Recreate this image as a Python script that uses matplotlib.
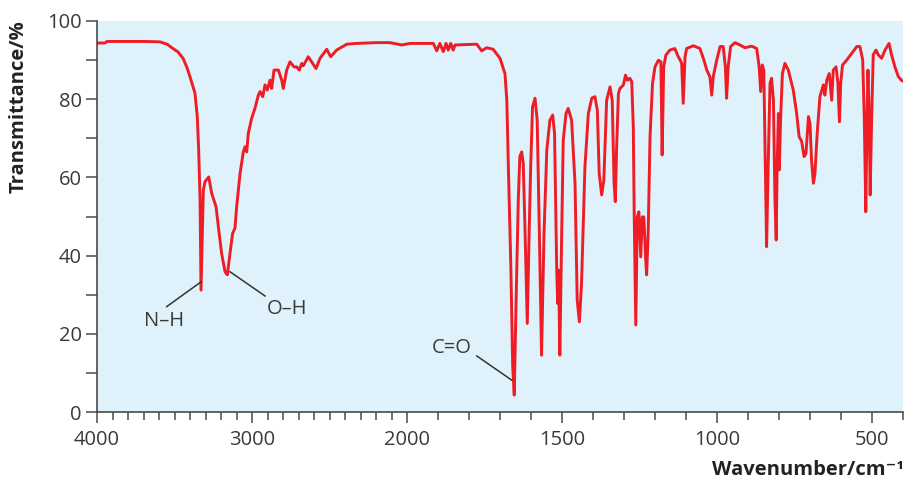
import numpy as np
import matplotlib
matplotlib.use('Agg')
import matplotlib.pyplot as plt
from matplotlib.ticker import FixedLocator

plt.rcParams['font.family'] = ['Open Sans', 'DejaVu Sans']

# 红外光谱数据：波数 (cm-1) 与透过率 (%)
wavenumber = [4000, 3950, 3935, 3700, 3594, 3548, 3510, 3477, 3445, 3421,
              3400, 3368, 3353, 3344, 3335, 3329, 3314, 3303, 3279, 3260,
              3232, 3217, 3196, 3174, 3159, 3142, 3125, 3110, 3099, 3077,
              3056, 3045, 3034, 3024, 3002, 2981, 2959, 2948, 2931, 2916,
              2901, 2884, 2873, 2858, 2830, 2808, 2798, 2776, 2755, 2729,
              2712, 2695, 2679, 2669, 2637, 2615, 2587, 2561, 2518, 2492,
              2454, 2389, 2325, 2196, 2110, 2034, 1990, 1915, 1904, 1894,
              1883, 1874, 1867, 1859, 1851, 1845, 1775, 1759, 1743, 1722,
              1700, 1684, 1678, 1673, 1665, 1659, 1654, 1648, 1641, 1636,
              1630, 1625, 1619, 1612, 1606, 1601, 1595, 1587, 1580, 1573,
              1566, 1558, 1549, 1539, 1530, 1524, 1517, 1514, 1511, 1507,
              1501, 1496, 1487, 1480, 1469, 1458, 1451, 1444, 1437, 1426,
              1415, 1404, 1394, 1386, 1380, 1372, 1365, 1356, 1345, 1338,
              1332, 1328, 1324, 1318, 1313, 1302, 1295, 1289, 1281, 1275,
              1270, 1267, 1262, 1257, 1252, 1246, 1241, 1236, 1230, 1227,
              1222, 1216, 1208, 1200, 1189, 1181, 1177, 1172, 1165, 1152,
              1136, 1125, 1119, 1114, 1109, 1103, 1098, 1076, 1055, 1042,
              1033, 1023, 1017, 1012, 1001, 990, 980, 973, 969, 964,
              956, 942, 926, 910, 888, 872, 864, 859, 854, 849,
              844, 840, 835, 829, 824, 818, 813, 809, 806, 802,
              799, 795, 789, 781, 770, 754, 743, 735, 727, 719,
              713, 705, 700, 695, 689, 684, 677, 668, 657, 652,
              646, 638, 630, 625, 616, 610, 605, 601, 595, 582,
              566, 549, 539, 530, 525, 520, 516, 513, 509, 506,
              501, 496, 487, 480, 469, 458, 445, 437, 426, 415,
              404, 400]
transmittance = [94.3, 94.3, 94.7, 94.7, 94.6, 94.0, 92.9, 92.0, 90.4, 88.2,
                 85.7, 81.5, 75.5, 67.0, 54.2, 31.2, 56.7, 58.9, 60.1, 55.9,
                 52.5, 47.4, 40.6, 35.9, 35.1, 40.6, 45.7, 47.0, 52.5, 61.0,
                 66.5, 67.8, 66.5, 71.2, 75.1, 77.6, 81.0, 81.9, 80.6, 83.6,
                 82.3, 84.8, 82.7, 87.4, 87.4, 84.8, 82.7, 87.4, 89.5, 88.2,
                 88.2, 87.4, 89.1, 88.5, 90.8, 89.5, 87.8, 90.4, 92.7, 90.8,
                 92.5, 94.0, 94.2, 94.4, 94.4, 93.8, 94.2, 94.2, 92.3, 94.2,
                 92.1, 94.2, 92.5, 94.2, 92.5, 93.8, 94.0, 92.3, 93.1, 92.7,
                 90.4, 86.5, 79.7, 62.7, 37.2, 11.6, 4.4, 28.7, 54.2, 65.3,
                 66.5, 63.6, 45.7, 22.7, 45.7, 62.7, 78.0, 80.2, 74.6, 45.7,
                 14.6, 45.7, 67.0, 74.6, 75.9, 71.2, 36.3, 27.8, 36.3, 14.6,
                 45.7, 69.5, 76.3, 77.6, 74.6, 58.5, 28.7, 23.1, 32.9, 62.7,
                 76.3, 80.2, 80.6, 77.2, 61.0, 55.5, 59.3, 79.7, 83.1, 79.7,
                 58.5, 53.8, 67.0, 81.4, 82.7, 83.6, 86.1, 84.8, 85.3, 84.4,
                 72.9, 49.9, 22.3, 49.9, 51.2, 39.7, 49.9, 49.9, 39.0, 35.1,
                 45.7, 70.4, 84.0, 88.2, 89.9, 89.5, 65.7, 88.2, 91.2, 92.5,
                 92.9, 90.8, 90.0, 89.1, 78.9, 90.8, 92.9, 93.6, 92.9, 89.9,
                 87.4, 85.7, 81.0, 85.7, 89.9, 93.4, 93.4, 88.2, 80.2, 88.2,
                 93.4, 94.4, 93.8, 93.1, 93.5, 92.9, 88.2, 81.9, 88.7, 87.4,
                 62.7, 42.3, 62.7, 84.0, 85.3, 79.7, 54.2, 44.0, 62.7, 76.3,
                 61.9, 74.6, 86.5, 89.1, 87.4, 82.3, 76.3, 70.4, 69.2, 65.3,
                 66.1, 75.5, 73.8, 64.4, 58.5, 61.0, 71.0, 80.6, 83.6, 81.0,
                 84.8, 86.5, 79.7, 87.4, 88.2, 84.0, 74.2, 84.0, 88.7, 89.9,
                 91.6, 93.4, 93.4, 90.0, 75.5, 51.2, 75.5, 87.4, 75.5, 55.5,
                 75.5, 91.3, 92.5, 91.3, 90.4, 92.5, 94.2, 91.3, 88.2, 85.7,
                 84.7, 84.6]

xTickValues = [4000, 3000, 2000, 1500, 1000, 500]
yTickValues = [0, 20, 40, 60, 80, 100]


# 2000 cm-1 以上压缩一半（红外谱图常用刻度）
def forward(x):
    x = np.asarray(x, dtype=float)
    return np.where(x > 2000, 1000 + x / 2, x)


def inverse(t):
    t = np.asarray(t, dtype=float)
    return np.where(t > 2000, 2 * t - 2000, t)


textColor = '#3a3a3a'
axisColor = '#4a4a4a'
fontSize = 14.5

fig = plt.figure(figsize=(9.07, 4.84), dpi=100)
ax = fig.add_axes([97 / 907, 71.7 / 484, 806 / 907, 391.6 / 484])
ax.set_facecolor('#dff1fb')

ax.set_xscale('function', functions=(forward, inverse))
ax.plot(wavenumber, transmittance, color='#ee1c25', linewidth=2.1,
        solid_joinstyle='round')
ax.set_xlim(4000, 400)
ax.set_ylim(0, 100)

ax.spines['top'].set_visible(False)
ax.spines['right'].set_visible(False)
ax.spines['left'].set_color(axisColor)
ax.spines['bottom'].set_color(axisColor)
ax.spines['left'].set_linewidth(1.2)
ax.spines['bottom'].set_linewidth(1.2)

ax.xaxis.set_major_locator(FixedLocator(xTickValues))
ax.xaxis.set_minor_locator(FixedLocator(list(range(400, 4000, 100))))
ax.set_xticklabels([str(v) for v in xTickValues])
ax.yaxis.set_major_locator(FixedLocator(yTickValues))
ax.yaxis.set_minor_locator(FixedLocator(list(range(10, 100, 20))))

ax.tick_params(axis='both', which='major', length=8, width=1.1,
               color=axisColor, labelcolor=textColor, labelsize=fontSize)
ax.tick_params(axis='x', which='major', pad=5)
ax.tick_params(axis='y', which='major', pad=3)
ax.tick_params(axis='x', which='minor', length=6, width=1.1, color=axisColor)
ax.tick_params(axis='y', which='minor', length=8, width=1.1, color=axisColor)

# 坐标轴标题
fig.text(904 / 907, 1 - 470 / 484, 'Wavenumber/cm\u207b\u00b9', ha='right',
         va='center', fontsize=fontSize, fontweight='bold', color='#222222')
fig.text(19 / 907, 1 - 20 / 484, 'Transmittance/%', ha='center', va='top',
         rotation=90, fontsize=fontSize, fontweight='bold', color='#222222')

# 官能团标注
lineColor = '#333333'
ax.plot([3550, 3329], [27.0, 33.3], color=lineColor, linewidth=1.1)
ax.text(3568, 23.3, 'N\u2013H', ha='center', va='center', fontsize=fontSize,
        color=textColor)
ax.plot([3142, 2916], [35.9, 29.7], color=lineColor, linewidth=1.1)
ax.text(2774, 26.5, 'O\u2013H', ha='center', va='center', fontsize=fontSize,
        color=textColor)
ax.plot([1775, 1662], [14.4, 8.2], color=lineColor, linewidth=1.1)
ax.text(1856, 16.3, 'C=O', ha='center', va='center', fontsize=fontSize,
        color=textColor)

plt.savefig('out.png', dpi=100)
plt.close()
